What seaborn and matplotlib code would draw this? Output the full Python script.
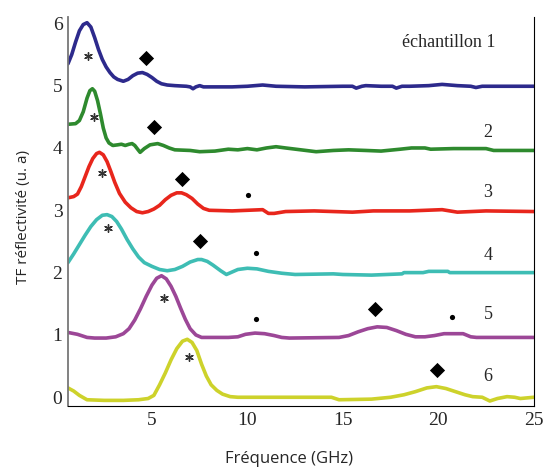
import numpy as np
import pandas as pd
import matplotlib
matplotlib.use("Agg")
import matplotlib.pyplot as plt
import seaborn as sns

# spectra (x in GHz, y offset by sample)
x1 = [0.6, 0.8, 1.0, 1.2, 1.4, 1.6, 1.8, 2.0, 2.2, 2.4, 2.6, 2.8, 3.0, 3.2, 3.5, 3.75, 4.0, 4.25, 4.5, 4.75, 5.0, 5.25, 5.5, 5.8, 6.2, 6.8, 7.0, 7.15, 7.3, 7.5, 7.7, 7.9, 9.2, 10.0, 10.8, 11.5, 13.0, 15.0, 15.5, 15.7, 16.0, 16.2, 17.0, 17.6, 17.8, 18.1, 18.5, 19.5, 20.2, 21.0, 21.7, 21.97, 22.3, 22.5, 25.0]
y1 = [5.35, 5.50, 5.70, 5.88, 5.98, 6.01, 5.94, 5.77, 5.58, 5.42, 5.30, 5.21, 5.14, 5.10, 5.07, 5.10, 5.16, 5.20, 5.21, 5.18, 5.13, 5.07, 5.03, 5.01, 5.00, 4.99, 4.98, 4.95, 4.98, 5.00, 4.98, 4.98, 4.98, 4.99, 5.01, 4.99, 4.98, 4.99, 4.99, 4.96, 4.99, 5.00, 4.99, 4.99, 4.96, 4.99, 4.99, 5.00, 5.02, 5.00, 4.99, 4.97, 4.99, 4.99, 4.99]

x2 = [0.6, 1.0, 1.2, 1.4, 1.6, 1.75, 1.88, 2.0, 2.15, 2.3, 2.45, 2.6, 2.75, 2.95, 3.2, 3.4, 3.6, 3.8, 3.96, 4.1, 4.25, 4.38, 4.6, 4.9, 5.3, 5.6, 5.9, 6.2, 7.0, 7.5, 8.3, 9.0, 9.5, 10.0, 10.5, 11.0, 11.5, 12.0, 12.8, 13.6, 14.5, 15.3, 16.2, 17.0, 18.0, 18.6, 19.3, 19.6, 20.8, 22.0, 22.5, 22.9, 25.0]
y2 = [4.38, 4.39, 4.44, 4.58, 4.80, 4.92, 4.95, 4.91, 4.76, 4.55, 4.32, 4.16, 4.08, 4.04, 4.05, 4.06, 4.04, 4.06, 4.07, 4.04, 3.98, 3.93, 3.99, 4.05, 4.07, 4.04, 4.00, 3.97, 3.96, 3.94, 3.95, 3.98, 3.97, 3.99, 3.97, 4.00, 4.02, 4.00, 3.97, 3.94, 3.96, 3.97, 3.96, 3.95, 3.98, 4.00, 4.00, 3.98, 3.99, 3.99, 3.99, 3.96, 3.96]

x3 = [0.6, 0.9, 1.1, 1.3, 1.5, 1.7, 1.9, 2.1, 2.25, 2.45, 2.65, 2.85, 3.05, 3.3, 3.6, 3.9, 4.2, 4.5, 4.8, 5.1, 5.4, 5.7, 6.0, 6.3, 6.55, 6.8, 7.1, 7.4, 7.7, 8.0, 9.2, 10.8, 11.1, 11.4, 12.0, 13.5, 15.5, 16.6, 18.5, 20.2, 21.0, 22.5, 25.0]
y3 = [3.20, 3.22, 3.26, 3.38, 3.54, 3.70, 3.83, 3.91, 3.93, 3.89, 3.78, 3.62, 3.45, 3.27, 3.13, 3.04, 2.98, 2.96, 2.98, 3.02, 3.08, 3.17, 3.24, 3.28, 3.28, 3.25, 3.19, 3.10, 3.03, 3.00, 2.99, 3.01, 2.95, 2.95, 2.98, 2.99, 2.97, 2.99, 2.99, 3.01, 2.97, 2.99, 2.98]

x4 = [0.6, 0.9, 1.2, 1.5, 1.8, 2.1, 2.4, 2.65, 2.9, 3.15, 3.4, 3.7, 4.0, 4.3, 4.6, 5.0, 5.4, 5.8, 6.2, 6.6, 7.0, 7.4, 7.6, 7.9, 8.2, 8.6, 8.9, 9.2, 9.5, 10.0, 10.5, 11.1, 11.8, 12.5, 14.5, 15.0, 16.5, 18.1, 18.2, 19.2, 19.5, 20.5, 20.6, 25.0]
y4 = [2.16, 2.30, 2.45, 2.60, 2.74, 2.85, 2.92, 2.93, 2.90, 2.82, 2.70, 2.53, 2.38, 2.25, 2.16, 2.10, 2.05, 2.03, 2.05, 2.10, 2.17, 2.21, 2.21, 2.18, 2.12, 2.03, 1.97, 2.01, 2.05, 2.07, 2.06, 2.02, 1.99, 1.97, 1.98, 1.97, 1.96, 1.98, 2.00, 2.00, 2.02, 2.02, 2.00, 2.00]

x5 = [0.6, 1.1, 1.6, 2.0, 2.6, 3.1, 3.5, 3.8, 4.1, 4.4, 4.7, 5.0, 5.25, 5.5, 5.75, 6.0, 6.25, 6.5, 6.75, 7.0, 7.3, 7.6, 9.0, 9.5, 9.9, 10.4, 10.9, 11.4, 11.8, 12.2, 14.8, 15.3, 15.8, 16.3, 16.8, 17.3, 17.8, 18.3, 18.8, 19.3, 19.8, 20.3, 21.3, 21.7, 22.0, 25.0]
y5 = [1.04, 1.01, 0.96, 0.95, 0.95, 0.97, 1.02, 1.10, 1.24, 1.42, 1.62, 1.80, 1.91, 1.95, 1.90, 1.78, 1.62, 1.43, 1.25, 1.10, 1.00, 0.96, 0.96, 0.97, 1.01, 1.03, 1.02, 0.99, 0.96, 0.95, 0.96, 0.99, 1.05, 1.10, 1.13, 1.12, 1.07, 1.01, 0.97, 0.97, 0.99, 1.02, 1.02, 0.97, 0.96, 0.96]

x6 = [0.6, 0.9, 1.2, 1.6, 2.5, 3.5, 4.3, 4.8, 5.1, 5.4, 5.7, 6.0, 6.3, 6.6, 6.85, 7.1, 7.35, 7.6, 7.85, 8.1, 8.4, 8.7, 9.1, 9.5, 14.4, 14.8, 16.5, 17.5, 18.2, 18.8, 19.4, 19.9, 20.4, 20.9, 21.4, 21.8, 22.3, 22.7, 23.1, 23.6, 24.0, 24.3, 25.0]
y6 = [0.15, 0.10, 0.03, -0.04, -0.05, -0.05, -0.04, -0.02, 0.03, 0.20, 0.39, 0.60, 0.78, 0.90, 0.93, 0.88, 0.75, 0.53, 0.34, 0.20, 0.11, 0.05, 0.01, 0.00, 0.00, -0.04, -0.03, 0.00, 0.04, 0.09, 0.15, 0.17, 0.14, 0.09, 0.04, 0.01, 0.00, -0.06, -0.02, 0.01, 0.00, -0.02, 0.00]

samples = ["1", "2", "3", "4", "5", "6"]
colors = ["#2d2a8c", "#2e8a2e", "#e8261c", "#3ebdb4", "#9c4797", "#cdd22b"]

# peak annotations
ast_x = [1.67, 1.98, 2.4, 2.7, 5.63, 6.93]
ast_y = [5.47, 4.50, 3.60, 2.72, 1.60, 0.65]
dia_x = [4.69, 5.1, 6.6, 7.5, 16.7, 19.95]
dia_y = [5.45, 4.33, 3.51, 2.50, 1.42, 0.43]
dot_x = [10.05, 10.47, 10.47, 20.7]
dot_y = [3.24, 2.32, 1.26, 1.29]

lab_text = ["échantillon 1", "2", "3", "4", "5", "6"]
lab_y = [5.69, 4.25, 3.28, 2.28, 1.32, 0.33]

frames = []
for s, xs, ys in zip(samples, [x1, x2, x3, x4, x5, x6], [y1, y2, y3, y4, y5, y6]):
    frames.append(pd.DataFrame({"f": xs, "v": ys, "s": s}))
df = pd.concat(frames, ignore_index=True)

sns.set_style("white")
fig = plt.figure(figsize=(5.48, 4.68), dpi=100)
ax = fig.add_axes([0.124, 0.1325, 0.85, 0.831])

sns.lineplot(data=df, x="f", y="v", hue="s", palette=colors, sort=False,
             estimator=None, linewidth=2.6, legend=False, ax=ax)

sns.scatterplot(x=ast_x, y=ast_y, marker=(6, 2, 0), s=30, color="#333333",
                linewidth=1.0, ax=ax)
sns.scatterplot(x=dia_x, y=dia_y, marker="D", s=60, color="black",
                linewidth=0, ax=ax)
sns.scatterplot(x=dot_x, y=dot_y, marker="o", s=14, color="black",
                linewidth=0, ax=ax)

for i, (t, yy) in enumerate(zip(lab_text, lab_y)):
    if i == 0:
        ax.text(23.0, yy, t, ha="right", va="center", fontsize=13,
                family="Liberation Serif")
    else:
        ax.text(22.6, yy, t, ha="center", va="center", fontsize=13,
                family="Liberation Serif")

ax.set_xlim(0.6, 25)
ax.set_ylim(-0.14, 6.1)
ax.set_xticks([5, 10, 15, 20, 25])
ax.set_yticks([0, 1, 2, 3, 4, 5, 6])
for lab in ax.get_xticklabels() + ax.get_yticklabels():
    lab.set_family("Liberation Serif")
    lab.set_fontsize(14)
ax.tick_params(axis="y", direction="in", length=4, color="#777777", pad=4)
ax.tick_params(axis="x", direction="in", length=3, color="black", pad=4)

ax.spines["top"].set_visible(False)
ax.spines["left"].set_color("#777777")
ax.spines["left"].set_linewidth(1.3)
ax.spines["bottom"].set_color("black")
ax.spines["right"].set_color("black")

ax.set_xlabel("Fréquence (GHz)", fontsize=12, family="Open Sans")
ax.set_ylabel("TF réflectivité (u. a)", fontsize=11, family="Open Sans")
ax.xaxis.set_label_coords(0.475, -0.115)
ax.yaxis.set_label_coords(-0.08, 0.486)

fig.savefig("out.png", dpi=100)
